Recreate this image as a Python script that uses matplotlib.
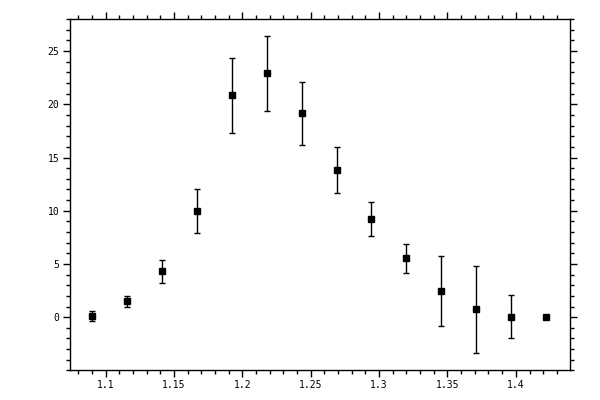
import matplotlib
matplotlib.use('Agg')
import matplotlib.pyplot as plt
from matplotlib.ticker import MultipleLocator

# Datos
x = [1.0904, 1.1157, 1.1412, 1.1668, 1.1923, 1.2178, 1.2434, 1.2689,
     1.2944, 1.3199, 1.3455, 1.3710, 1.3965, 1.4220]
y = [0.10, 1.50, 4.32, 9.96, 20.86, 22.93, 19.17, 13.82,
     9.21, 5.55, 2.44, 0.75, 0.06, 0.00]
yerr = [0.45, 0.52, 1.08, 2.07, 3.52, 3.53, 2.95, 2.17,
        1.60, 1.36, 3.29, 4.08, 2.03, 0.0]

xticks = [1.1, 1.15, 1.2, 1.25, 1.3, 1.35, 1.4]
xlabels = ['1.1', '1.15', '1.2', '1.25', '1.3', '1.35', '1.4']
yticks = [0, 5, 10, 15, 20, 25]

plt.rcParams['font.family'] = 'DejaVu Sans Mono'

fig = plt.figure(figsize=(6, 4), dpi=100)
ax = fig.add_axes([0.116, 0.074, 0.834, 0.878])

ax.errorbar(x, y, yerr=yerr, fmt='s', color='black', markersize=5,
            elinewidth=1, capsize=2.2, capthick=1)

ax.set_xlim(1.0737, 1.4396)
ax.set_ylim(-5, 28)

ax.set_xticks(xticks)
ax.set_xticklabels(xlabels)
ax.set_yticks(yticks)
ax.xaxis.set_minor_locator(MultipleLocator(0.01))
ax.yaxis.set_minor_locator(MultipleLocator(1))

ax.tick_params(which='both', direction='out', top=True, right=True,
               labeltop=False, labelright=False, width=1, labelsize=7)
ax.tick_params(which='major', length=5)
ax.tick_params(which='minor', length=3)
ax.tick_params(axis='x', pad=2)
ax.tick_params(axis='y', pad=2.5)

for s in ax.spines.values():
    s.set_linewidth(1)

plt.savefig('out.png', dpi=100)
